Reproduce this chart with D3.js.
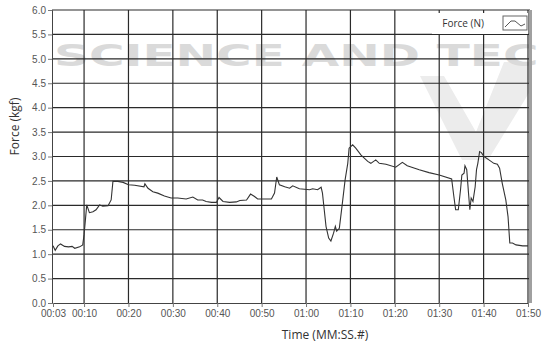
<!DOCTYPE html>
<html>
<head>
<meta charset="utf-8">
<script src="https://cdn.jsdelivr.net/npm/d3@7"></script>
<style>
  body { margin: 0; background: #fff; }
  svg { display: block; font-family: "Open Sans", "DejaVu Sans", sans-serif; }
</style>
</head>
<body>
<div id="chart"></div>
<script>
// time in seconds, force in kgf
var times = [3, 3.5, 4.1, 4.7, 5.6, 6.5, 7.3, 7.9, 9, 9.7, 10, 10.3, 10.6, 11.2, 12, 12.7, 13.5, 14.2, 15.4, 16.1,
  16.5, 17.6, 18.8, 20, 21.4, 23.5, 23.7, 24.4, 25.5, 26.6, 28.1, 29.6, 31.1, 33, 34.5, 35.6, 36.7, 37.5, 38.7, 39.8,
  40.4, 41.3, 42.8, 44.3, 45.1, 46.6, 47.5, 48.4, 49.1, 50.3, 52.2, 52.9, 53.4, 54, 55.2, 56.3, 57, 58.5, 60.8, 61.5,
  62.6, 63.4, 63.7, 64.1, 64.5, 65.1, 65.6, 66.2, 66.6, 66.9, 67.5, 68.1, 68.8, 69.4, 69.7, 70.5, 71.2, 72.4, 73.9, 74.6,
  75.7, 76.5, 78, 80.2, 81.7, 82.8, 85.5, 87.7, 90, 92.8, 93.3, 93.7, 94.3, 94.8, 95.1, 95.6, 95.8, 96.2, 96.6, 96.9,
  97.2, 97.6, 98.1, 98.4, 98.7, 99.1, 99.5, 100.1, 101.2, 102.3, 103.1, 103.6, 104.2, 105, 105.5, 105.9, 106.5, 107.3, 108.8, 110];
var forces = [1.17, 1.08, 1.17, 1.21, 1.16, 1.15, 1.16, 1.12, 1.15, 1.19, 1.40, 1.70, 2.01, 1.85, 1.87, 1.91, 2.01, 1.98, 1.99, 2.11,
  2.49, 2.49, 2.47, 2.42, 2.41, 2.38, 2.44, 2.35, 2.28, 2.25, 2.19, 2.15, 2.15, 2.13, 2.17, 2.11, 2.11, 2.08, 2.06, 2.06,
  2.16, 2.08, 2.06, 2.07, 2.10, 2.11, 2.23, 2.18, 2.13, 2.13, 2.13, 2.25, 2.58, 2.42, 2.38, 2.35, 2.40, 2.34, 2.32, 2.34,
  2.32, 2.37, 2.25, 1.91, 1.57, 1.33, 1.27, 1.43, 1.57, 1.47, 1.53, 1.98, 2.52, 2.86, 3.17, 3.24, 3.17, 3.03, 2.90, 2.86,
  2.93, 2.86, 2.84, 2.78, 2.88, 2.81, 2.73, 2.67, 2.62, 2.54, 2.18, 1.91, 1.91, 2.32, 2.62, 2.66, 2.81, 2.73, 2.25, 1.91,
  2.15, 2.08, 2.38, 2.73, 2.86, 3.10, 3.08, 3.00, 2.93, 2.86, 2.84, 2.76, 2.45, 2.11, 1.77, 1.23, 1.23, 1.19, 1.17, 1.17];

var xTicks = [3, 10, 20, 30, 40, 50, 60, 70, 80, 90, 100, 110];
var xTickLabels = ["00:03", "00:10", "00:20", "00:30", "00:40", "00:50", "01:00", "01:10", "01:20", "01:30", "01:40", "01:50"];
var yTicks = [0, 0.5, 1, 1.5, 2, 2.5, 3, 3.5, 4, 4.5, 5, 5.5, 6];

var W = 542, H = 345;
var margin = { left: 52, right: 12, top: 10, bottom: 42 };
var width = W - margin.left - margin.right,
    height = H - margin.top - margin.bottom;

var svg = d3.select("#chart").append("svg")
    .attr("width", W)
    .attr("height", H);

// faint publisher watermark behind the plot
svg.append("path")
    .attr("d", "M420,76 L444,76 L476,132 L504,62 L532,62 L532,88 L488,160 L462,160 Z")
    .style("fill", "#ececec");
svg.append("text")
    .attr("x", 54).attr("y", 66)
    .attr("font-size", "30px")
    .attr("font-weight", "bold")
    .attr("textLength", 525)
    .attr("lengthAdjust", "spacingAndGlyphs")
    .style("font-family", "'DejaVu Sans', sans-serif")
    .style("fill", "#dadada")
    .text("SCIENCE AND TECH");

var g = svg.append("g")
    .attr("transform", "translate(" + margin.left + "," + margin.top + ")");

var x = d3.scaleLinear().domain([3, 110]).range([1, width - 2]);
var y = d3.scaleLinear().domain([0, 6]).range([height, 0]);

// grid
g.append("g").selectAll("line")
    .data(xTicks.slice(1))
    .enter().append("line")
    .attr("x1", function(d){ return x(d); })
    .attr("x2", function(d){ return x(d); })
    .attr("y1", 0).attr("y2", height)
    .style("stroke", "#2a2a2a").style("stroke-width", 1.2);

g.append("g").selectAll("line")
    .data(yTicks.slice(1))
    .enter().append("line")
    .attr("x1", 0).attr("x2", width)
    .attr("y1", function(d){ return y(d); })
    .attr("y2", function(d){ return y(d); })
    .style("stroke", "#2a2a2a").style("stroke-width", 1.2);

// right edge double border
g.append("rect")
    .attr("x", width - 1).attr("y", 0)
    .attr("width", 3).attr("height", height)
    .style("fill", "#a0a0a0");

// axes
var xAxis = g.append("g")
    .attr("transform", "translate(0," + height + ")")
    .call(d3.axisBottom(x).tickValues(xTicks).tickSize(4).tickPadding(3)
        .tickFormat(function(d, i){ return xTickLabels[i]; }));
var yAxis = g.append("g")
    .call(d3.axisLeft(y).tickValues(yTicks).tickSize(4).tickPadding(2)
        .tickFormat(d3.format(".1f")));

[xAxis, yAxis].forEach(function(a){
    a.select(".domain").style("stroke", "#444");
    a.selectAll(".tick line").style("stroke", "#777");
    a.selectAll(".tick text")
        .style("fill", "#555")
        .style("font-size", "10px");
});

// trace
var line = d3.line()
    .x(function(d){ return x(d[0]); })
    .y(function(d){ return y(d[1]); });

g.append("path")
    .datum(d3.zip(times, forces))
    .attr("d", line)
    .style("fill", "none")
    .style("stroke", "#333")
    .style("stroke-width", 1.1);

// legend
var legend = g.append("g").attr("transform", "translate(" + (width - 98) + ",3)");
legend.append("rect")
    .attr("x", 0).attr("y", 0)
    .attr("width", 96).attr("height", 21)
    .style("fill", "#fff");
legend.append("text")
    .attr("x", 52).attr("y", 14)
    .attr("text-anchor", "end")
    .style("font-size", "10px")
    .style("fill", "#333")
    .text("Force (N)");
legend.append("rect")
    .attr("x", 71).attr("y", 3)
    .attr("width", 24).attr("height", 14)
    .style("fill", "#fff")
    .style("stroke", "#666");
legend.append("path")
    .attr("d", "M73,14 L79,8 L83,8 L89,13 L93,11")
    .style("fill", "none")
    .style("stroke", "#555");

// axis titles
svg.append("text")
    .attr("transform", "translate(19," + (margin.top + height / 2 - 30) + ") rotate(-90)")
    .attr("text-anchor", "middle")
    .style("font-size", "12px")
    .style("fill", "#333")
    .text("Force (kgf)");

svg.append("text")
    .attr("x", 325).attr("y", 339)
    .attr("text-anchor", "middle")
    .style("font-size", "12px")
    .style("fill", "#333")
    .text("Time (MM:SS.#)");
</script>
</body>
</html>
